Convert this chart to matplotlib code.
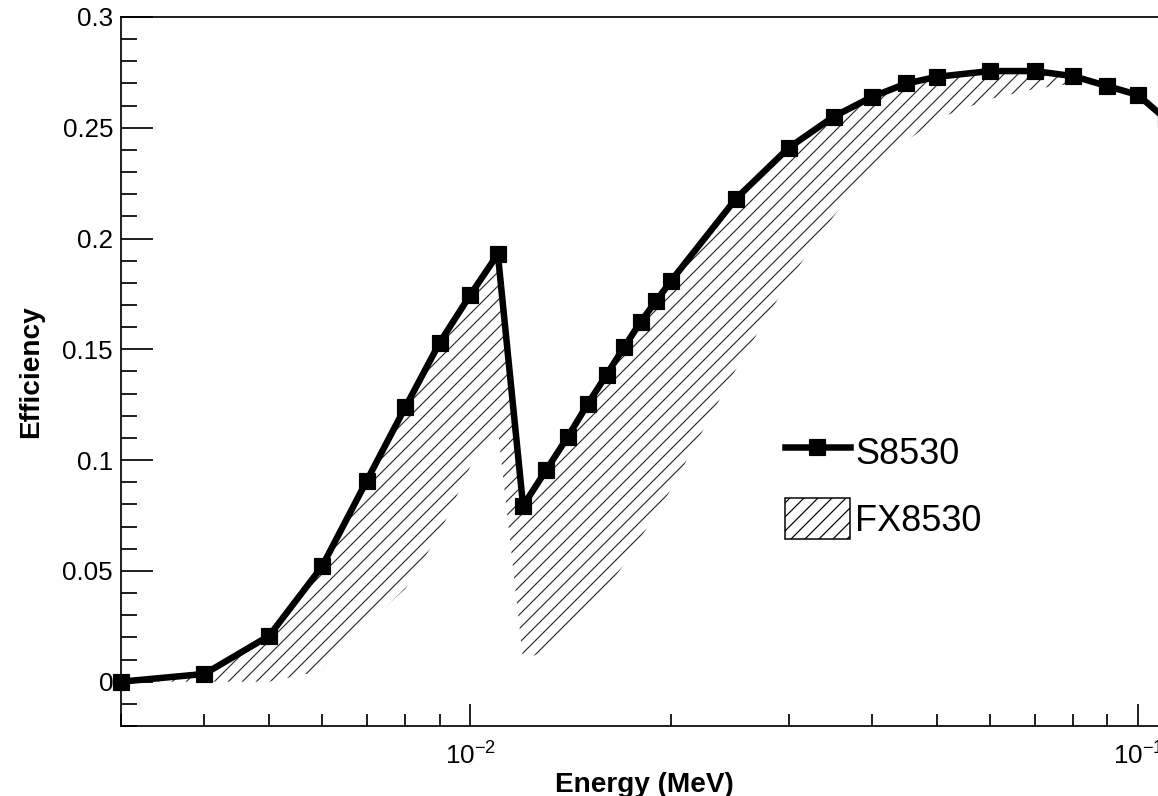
import matplotlib
matplotlib.use("Agg")
import matplotlib.pyplot as plt
from matplotlib.lines import Line2D
from matplotlib.patches import Patch
from matplotlib.ticker import (LogLocator, MultipleLocator, FuncFormatter,
                               NullFormatter, LogFormatterMathtext)

# data
energy_mev = [0.003, 0.004, 0.005, 0.006, 0.007, 0.008, 0.009, 0.010, 0.011,
              0.012, 0.013, 0.014, 0.015, 0.016, 0.017, 0.018, 0.019, 0.020,
              0.025, 0.030, 0.035, 0.040, 0.045, 0.050, 0.060, 0.070, 0.080,
              0.090, 0.100, 0.110]
s8530_eff = [0.0, 0.0035, 0.0207, 0.052, 0.0907, 0.124, 0.153, 0.1745, 0.193,
             0.0794, 0.0956, 0.1105, 0.1254, 0.1385, 0.151, 0.1624, 0.172, 0.181,
             0.218, 0.241, 0.255, 0.264, 0.270, 0.273, 0.2756, 0.2756, 0.2733,
             0.2688, 0.2648, 0.254]
# lower edge of the hatched FX8530 band (upper edge follows S8530)
fx8530_lower = [0.0, 0.0, 0.0, 0.005, 0.026, 0.042, 0.067, 0.097, 0.114,
                0.0099, 0.014, 0.024, 0.033, 0.042, 0.053, 0.065, 0.076, 0.087,
                0.141, 0.181, 0.210, 0.231, 0.244, 0.254, 0.263, 0.2675, 0.270,
                0.2688, 0.2648, 0.254]

DPI = 84
W, H = 1158, 796


def px(v):
    # pixels -> points
    return v * 72.0 / DPI


plt.rcParams['font.family'] = ['Liberation Sans', 'DejaVu Sans']
plt.rcParams['mathtext.default'] = 'regular'
plt.rcParams['axes.unicode_minus'] = False
plt.rcParams['hatch.linewidth'] = px(1.2)
plt.rcParams['hatch.color'] = '#333333'

fig = plt.figure(figsize=(W / DPI, H / DPI), dpi=DPI)
ax = fig.add_axes([121 / W, 70 / H, 1046 / W, 709 / H])
ax.set_xscale('log')
ax.set_xlim(0.003, 0.1105)
ax.set_ylim(-0.02, 0.3)

ax.fill_between(energy_mev, fx8530_lower, s8530_eff, facecolor='none',
                edgecolor='#333333', hatch='//', linewidth=0, zorder=2)
ax.plot(energy_mev, s8530_eff, color='black', lw=px(6.5), marker='s',
        ms=px(16.5), clip_on=False, zorder=3)

# axes / ticks, ROOT style
for side in ['left', 'bottom', 'top', 'right']:
    ax.spines[side].set_linewidth(px(1.7))

ax.yaxis.set_major_locator(MultipleLocator(0.05))
ax.yaxis.set_minor_locator(MultipleLocator(0.01))
ax.yaxis.set_major_formatter(FuncFormatter(lambda v, p: f"{round(v, 3) + 0:g}"))
ax.xaxis.set_major_locator(LogLocator(base=10))
ax.xaxis.set_minor_locator(LogLocator(base=10, subs=range(2, 10)))
ax.xaxis.set_major_formatter(LogFormatterMathtext())
ax.xaxis.set_minor_formatter(NullFormatter())

ax.tick_params(axis='y', which='major', direction='in', length=px(32),
               width=px(1.7), labelsize=px(26), pad=px(8), right=False)
ax.tick_params(axis='y', which='minor', direction='in', length=px(16),
               width=px(1.7), right=False)
ax.tick_params(axis='x', which='major', direction='in', length=px(22),
               width=px(1.7), labelsize=px(26), pad=px(16), top=False)
ax.tick_params(axis='x', which='minor', direction='in', length=px(12),
               width=px(1.7), top=False)

ax.set_xlabel('Energy (MeV)', fontsize=px(28), fontweight='bold')
ax.set_ylabel('Efficiency', fontsize=px(28), fontweight='bold')
ax.xaxis.set_label_coords(0.5, -(772 - 726) / 709)
ax.yaxis.set_label_coords(-(121 - 44) / 1046, 0.5)

handles = [Line2D([], [], color='black', lw=px(6.5), marker='s', ms=px(16.5)),
           Patch(facecolor='white', edgecolor='black', hatch='//', lw=px(1.5))]
ax.legend(handles, ['S8530', 'FX8530'], loc='upper left',
          bbox_to_anchor=(785 / W, 1 - 431 / H), bbox_transform=fig.transFigure,
          frameon=False, fontsize=px(36), borderpad=0, borderaxespad=0,
          handlelength=1.8, handleheight=1.4, handletextpad=0.15,
          labelspacing=0.7, numpoints=1)

fig.savefig('out.png', dpi=DPI)
